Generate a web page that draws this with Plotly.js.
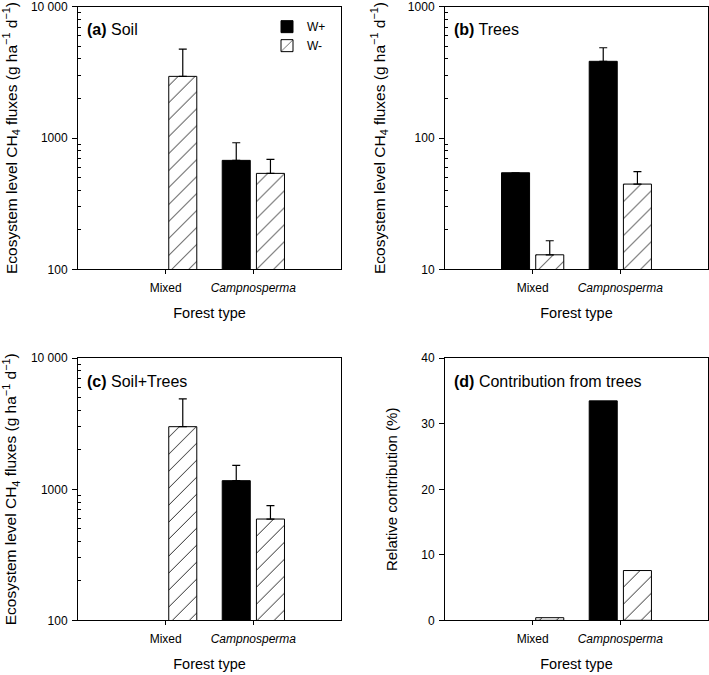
<!DOCTYPE html>
<html>
<head>
<meta charset="utf-8">
<script src="https://cdn.plot.ly/plotly-3.0.1.min.js"></script>
<style>
  html, body { margin: 0; padding: 0; background: #fff; }
  #chart { width: 709px; height: 675px; }
</style>
</head>
<body>
<div id="chart"></div>
<script>
// forest types on the x axis
const categories = ['Mixed', 'Campnosperma'];
const categoryLabels = ['Mixed', '<i>Campnosperma</i>'];

// (a) soil fluxes, g ha-1 d-1 (upper error only)
const soilWplus = [null, 676];
const soilWplusErr = [null, 245];
const soilWminus = [2950, 538];
const soilWminusErr = [1810, 150];

// (b) tree fluxes
const treesWplus = [54.4, 384];
const treesWplusErr = [0, 103];
const treesWminus = [12.9, 44.6];
const treesWminusErr = [3.6, 10.8];

// (c) soil + trees
const totalWplus = [null, 1164];
const totalWplusErr = [null, 361];
const totalWminus = [3006, 593];
const totalWminusErr = [1890, 157];

// (d) relative contribution from trees, %
const contribWplus = [null, 33.5];
const contribWminus = [0.4, 7.6];

const FONT = 'Arial, "Liberation Sans", sans-serif';

function barTrace(name, values, errors, n, hatched, showLegend) {
    const trace = {
        type: 'bar',
        name: name,
        x: categories,
        y: values,
        xaxis: n === 1 ? 'x' : 'x' + n,
        yaxis: n === 1 ? 'y' : 'y' + n,
        showlegend: showLegend,
        legendgroup: name,
        marker: {
            color: hatched ? 'white' : 'black',
            line: { color: 'black', width: 1 }
        }
    };
    if (hatched) {
        trace.marker.pattern = { shape: '/', size: 12, solidity: 0.07, fgcolor: 'black', bgcolor: 'white' };
    }
    if (errors) {
        trace.error_y = {
            type: 'data',
            symmetric: false,
            array: errors,
            arrayminus: errors.map(() => 0),
            color: 'black',
            thickness: 1.2,
            width: 4
        };
    }
    return trace;
}

const data = [
    barTrace('W+', soilWplus, soilWplusErr, 1, false, true),
    barTrace('W-', soilWminus, soilWminusErr, 1, true, true),
    barTrace('W+', treesWplus, treesWplusErr, 2, false, false),
    barTrace('W-', treesWminus, treesWminusErr, 2, true, false),
    barTrace('W+', totalWplus, totalWplusErr, 3, false, false),
    barTrace('W-', totalWminus, totalWminusErr, 3, true, false),
    barTrace('W+', contribWplus, null, 4, false, false),
    barTrace('W-', contribWminus, null, 4, true, false)
];

const fluxTitle = 'Ecosystem level CH<sub>4</sub> fluxes (g ha<sup>\u22121</sup> d<sup>\u22121</sup>)';

// minor ticks 2..9 in every decade shown
function minorTicks(lo, hi) {
    const vals = [];
    for (let d = lo; d < hi; d *= 10) {
        for (let k = 2; k <= 9; k++) vals.push(k * d);
    }
    return vals;
}

function xAxis(domain, anchor) {
    return {
        domain: domain,
        anchor: anchor,
        type: 'category',
        range: [-1, 2],
        tickvals: categories,
        ticktext: categoryLabels,
        ticks: 'outside',
        ticklen: 4,
        tickcolor: 'black',
        ticklabelstandoff: 3,
        showline: true,
        mirror: true,
        linecolor: 'black',
        linewidth: 1,
        showgrid: false,
        zeroline: false,
        tickfont: { size: 12, color: 'black' },
        title: { text: 'Forest type', font: { size: 14.5, color: 'black' }, standoff: 14 }
    };
}

function logAxis(domain, anchor, range, tickvals, ticktext, standoff) {
    return {
        domain: domain,
        anchor: anchor,
        type: 'log',
        range: range,
        tickmode: 'array',
        tickvals: tickvals,
        ticktext: ticktext,
        ticks: 'outside',
        ticklen: 5,
        tickcolor: 'black',
        ticklabelstandoff: 2,
        ticklabeloverflow: 'allow',
        minor: {
            tickmode: 'array',
            tickvals: minorTicks(tickvals[0], tickvals[tickvals.length - 1]),
            ticks: 'inside',
            ticklen: 3,
            tickcolor: 'black',
            showgrid: false
        },
        showline: true,
        mirror: true,
        linecolor: 'black',
        linewidth: 1,
        showgrid: false,
        zeroline: false,
        tickfont: { size: 12, color: 'black' },
        title: { text: fluxTitle, font: { size: 15.5, color: 'black' }, standoff: standoff }
    };
}

function panelLabel(letter, text, n) {
    const s = n === 1 ? '' : n;
    return {
        text: '<b>(' + letter + ')</b> ' + text,
        xref: 'x' + s + ' domain',
        yref: 'y' + s + ' domain',
        x: 0.025,
        y: 0.912,
        xanchor: 'left',
        yanchor: 'middle',
        showarrow: false,
        font: { size: 16, color: 'black' }
    };
}

const colLeft = [0.110, 0.481];
const colRight = [0.6276, 0.9986];
const rowTop = [0.601, 0.990];
const rowBottom = [0.081, 0.4692];

const layout = {
    width: 709,
    height: 675,
    margin: { l: 0, r: 0, t: 0, b: 0 },
    paper_bgcolor: 'white',
    plot_bgcolor: 'white',
    font: { family: FONT, color: 'black' },
    barmode: 'group',
    bargap: 0.22,
    bargroupgap: 0.18,
    showlegend: true,
    legend: {
        x: 0.3766,
        y: 0.982,
        xanchor: 'left',
        yanchor: 'top',
        bgcolor: 'rgba(0,0,0,0)',
        font: { size: 12, color: 'black' },
        tracegroupgap: 0
    },
    xaxis: xAxis(colLeft, 'y'),
    yaxis: logAxis(rowTop, 'x', [2, 4], [100, 1000, 10000], ['100', '1000', '10 000'], 18),
    xaxis2: xAxis(colRight, 'y2'),
    yaxis2: logAxis(rowTop, 'x2', [1, 3], [10, 100, 1000], ['10', '100', '1000'], 18),
    xaxis3: xAxis(colLeft, 'y3'),
    yaxis3: logAxis(rowBottom, 'x3', [2, 4], [100, 1000, 10000], ['100', '1000', '10 000'], 18),
    xaxis4: xAxis(colRight, 'y4'),
    yaxis4: {
        domain: rowBottom,
        anchor: 'x4',
        range: [0, 40],
        dtick: 10,
        ticks: 'outside',
        ticklen: 5,
        tickcolor: 'black',
        ticklabelstandoff: 2,
        ticklabeloverflow: 'allow',
        showline: true,
        mirror: true,
        linecolor: 'black',
        linewidth: 1,
        showgrid: false,
        zeroline: false,
        tickfont: { size: 12, color: 'black' },
        title: { text: 'Relative contribution (%)', font: { size: 15, color: 'black' }, standoff: 19 }
    },
    annotations: [
        panelLabel('a', 'Soil', 1),
        panelLabel('b', 'Trees', 2),
        panelLabel('c', 'Soil+Trees', 3),
        panelLabel('d', 'Contribution from trees', 4)
    ]
};

Plotly.newPlot('chart', data, layout, { displayModeBar: false, staticPlot: true });
</script>
</body>
</html>
